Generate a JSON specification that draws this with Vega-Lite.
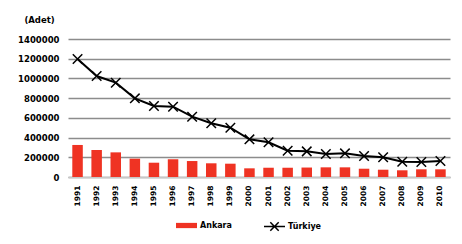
{
  "$schema": "https://vega.github.io/schema/vega-lite/v6.json",
  "width": 382,
  "height": 138,
  "autosize": "none",
  "padding": {"left": 68, "top": 39, "right": 12, "bottom": 67},
  "background": "white",
  "config": {
    "view": {"stroke": null},
    "font": "DejaVu Sans",
    "axis": {"labelFont": "DejaVu Sans", "labelFontWeight": "bold", "labelColor": "black", "titleFont": "DejaVu Sans", "titleFontWeight": "bold", "titleColor": "black"},
    "axisY": {"titleAngle": 0, "titleFontSize": 8.5, "titleAlign": "center", "titleBaseline": "middle", "titleX": -29, "titleY": -20, "labelOverlap": false, "labelFontSize": 8.5, "labelPadding": 9, "ticks": false, "tickSize": 0, "domain": false, "grid": true, "gridColor": "#8c8c8c", "gridWidth": 1.4},
    "legend": {"labelFont": "DejaVu Sans", "labelFontWeight": "bold", "labelColor": "black", "labelFontSize": 8}
  },
  "data": {
    "values": [
      {"year": "1991", "ankara": 325000, "turkiye": 1197000},
      {"year": "1992", "ankara": 274000, "turkiye": 1024000},
      {"year": "1993", "ankara": 250000, "turkiye": 957000},
      {"year": "1994", "ankara": 186000, "turkiye": 798000},
      {"year": "1995", "ankara": 145000, "turkiye": 720000},
      {"year": "1996", "ankara": 180000, "turkiye": 713000},
      {"year": "1997", "ankara": 162000, "turkiye": 612000},
      {"year": "1998", "ankara": 139000, "turkiye": 545000},
      {"year": "1999", "ankara": 135000, "turkiye": 500000},
      {"year": "2000", "ankara": 88000, "turkiye": 382000},
      {"year": "2001", "ankara": 94000, "turkiye": 352000},
      {"year": "2002", "ankara": 94000, "turkiye": 267000},
      {"year": "2003", "ankara": 96000, "turkiye": 260000},
      {"year": "2004", "ankara": 98000, "turkiye": 233000},
      {"year": "2005", "ankara": 98000, "turkiye": 240000},
      {"year": "2006", "ankara": 84000, "turkiye": 213000},
      {"year": "2007", "ankara": 74000, "turkiye": 200000},
      {"year": "2008", "ankara": 68000, "turkiye": 155000},
      {"year": "2009", "ankara": 78000, "turkiye": 152000},
      {"year": "2010", "ankara": 78000, "turkiye": 162000}
    ]
  },
  "encoding": {
    "x": {
      "field": "year", "type": "nominal",
      "scale": {"paddingInner": 0.45, "paddingOuter": 0.225},
      "axis": {"title": null, "labelAngle": -90, "labelFontSize": 7.5, "labelPadding": 8, "labelOverlap": false, "ticks": false, "tickSize": 0, "domainColor": "#c8c8c8", "domainWidth": 1.5, "grid": false}
    }
  },
  "layer": [
    {
      "mark": {"type": "bar"},
      "encoding": {
        "y": {
          "field": "ankara", "type": "quantitative",
          "scale": {"domain": [0, 1400000], "nice": false},
          "axis": {"title": "(Adet)", "format": "d", "values": [0, 200000, 400000, 600000, 800000, 1000000, 1200000, 1400000], "labelOverlap": false}
        },
        "fill": {
          "datum": "Ankara",
          "scale": {"range": ["#EF3323"]},
          "legend": {"title": null, "orient": "none", "legendX": 108, "legendY": 176, "padding": 0, "symbolType": "M-1,-0.25H1V0.25H-1Z", "symbolSize": 441, "symbolStrokeWidth": 0, "labelOffset": 3}
        }
      }
    },
    {
      "mark": {"type": "line", "strokeWidth": 2},
      "encoding": {
        "y": {"field": "turkiye", "type": "quantitative",
          "axis": {"title": "(Adet)", "format": "d", "values": [0, 200000, 400000, 600000, 800000, 1000000, 1200000, 1400000], "labelOverlap": false}},
        "stroke": {
          "datum": "Türkiye",
          "scale": {"range": ["black"]},
          "legend": {"title": null, "orient": "none", "legendX": 195, "legendY": 176, "padding": 0, "symbolType": "M-1,0H1M-0.4,-0.4L0.4,0.4M-0.4,0.4L0.4,-0.4", "symbolSize": 441, "symbolStrokeWidth": 1.5, "symbolFillColor": "transparent", "labelOffset": 2}
        }
      }
    },
    {
      "mark": {"type": "point", "shape": "M-1,-1L1,1M-1,1L1,-1", "filled": false, "stroke": "black", "strokeWidth": 1.5, "size": 90, "opacity": 1},
      "encoding": {
        "y": {"field": "turkiye", "type": "quantitative",
          "axis": {"title": "(Adet)", "format": "d", "values": [0, 200000, 400000, 600000, 800000, 1000000, 1200000, 1400000], "labelOverlap": false}}
      }
    }
  ]
}
